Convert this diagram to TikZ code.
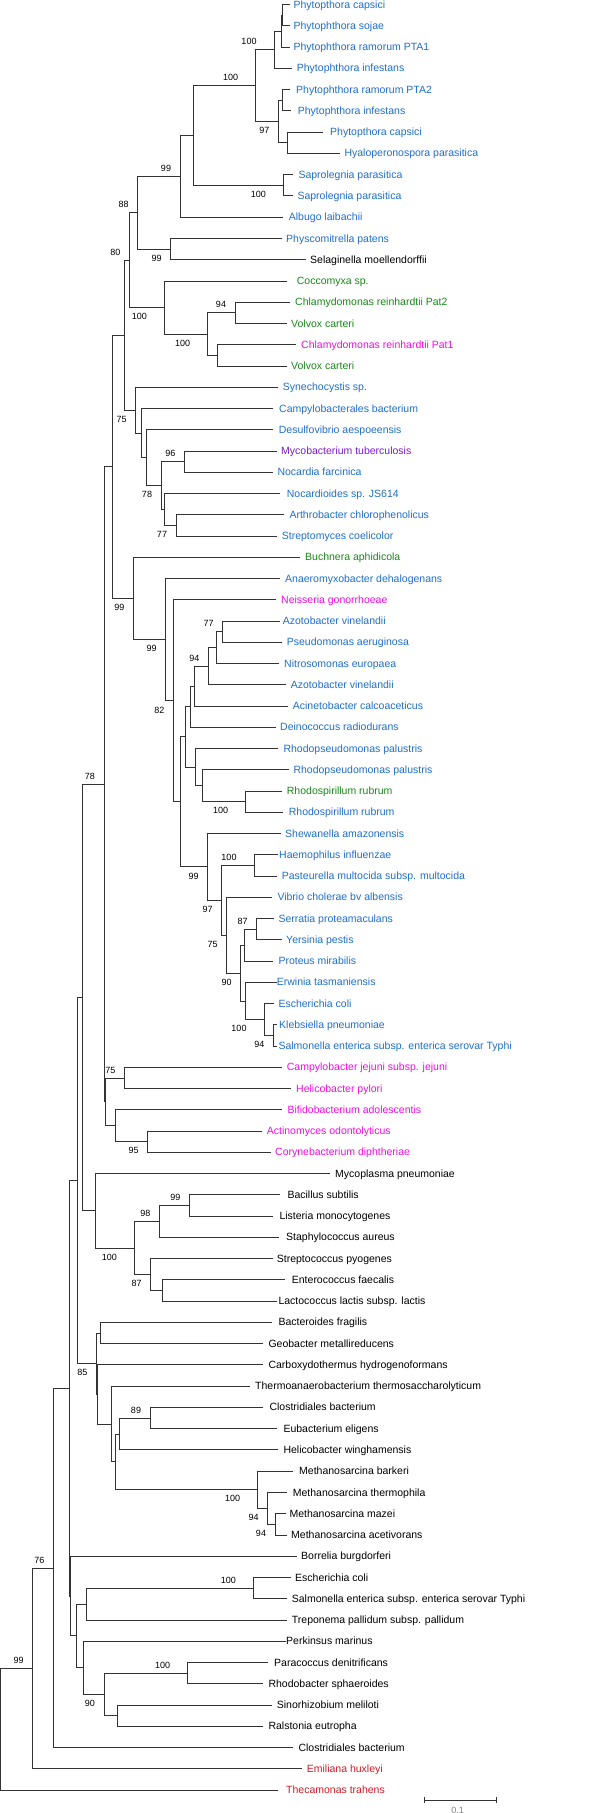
\documentclass[tikz,border=0pt]{standalone}
\usepackage{fontspec}
\setmainfont{Liberation Sans}
\definecolor{oblue}{RGB}{30,110,200}
\definecolor{ogreen}{RGB}{25,135,25}
\definecolor{omag}{RGB}{240,10,230}
\definecolor{opurp}{RGB}{125,25,205}
\definecolor{ored}{RGB}{210,25,35}
\begin{document}
\begin{tikzpicture}[x=1pt, y=-21.254pt,
  branch/.style={line width=1pt, black!80},
  leaf/.style={anchor=base west, inner sep=0pt, yshift=-3.5pt, font=\fontsize{10.5}{12}\selectfont},
  boot/.style={inner sep=0pt, font=\fontsize{9}{10}\selectfont},
  b2u/.style={boot, xshift=-14pt, yshift=8pt},
  b2d/.style={boot, xshift=-14pt, yshift=-9pt},
  b3u/.style={boot, xshift=-25pt, yshift=8pt},
  b3d/.style={boot, xshift=-25pt, yshift=-9pt}]
\useasboundingbox (0,0.7787) rectangle (600,86.08);

% Tips and taxa
\coordinate (t1) at (290,1); \node[leaf,oblue] (n1) at (293.3,1) {Phytopthora capsici};
\coordinate (t2) at (290,2); \node[leaf,oblue] (n2) at (293.3,2) {Phytophthora sojae};
\coordinate (t3) at (290,3); \node[leaf,oblue] (n3) at (293.3,3) {Phytophthora ramorum PTA1};
\coordinate (t4) at (291.7,4); \node[leaf,oblue] (n4) at (296.7,4) {Phytophthora infestans};
\coordinate (t5) at (290,5); \node[leaf,oblue] (n5) at (296,5) {Phytophthora ramorum PTA2};
\coordinate (t6) at (291,6); \node[leaf,oblue] (n6) at (297.7,6) {Phytophthora infestans};
\coordinate (t7) at (323.3,7); \node[leaf,oblue] (n7) at (330,7) {Phytopthora capsici};
\coordinate (t8) at (340,8); \node[leaf,oblue] (n8) at (344.3,8) {Hyaloperonospora parasitica};
\coordinate (t9) at (293.3,9); \node[leaf,oblue] (n9) at (298.3,9) {Saprolegnia parasitica};
\coordinate (t10) at (292.7,10); \node[leaf,oblue] (n10) at (297.3,10) {Saprolegnia parasitica};
\coordinate (t11) at (283.3,11); \node[leaf,oblue] (n11) at (288.7,11) {Albugo laibachii};
\coordinate (t12) at (281.7,12); \node[leaf,oblue] (n12) at (286,12) {Physcomitrella patens};
\coordinate (t13) at (306,13); \node[leaf,black] (n13) at (310,13) {Selaginella moellendorffii};
\coordinate (t14) at (287.3,14); \node[leaf,ogreen] (n14) at (296.7,14) {Coccomyxa sp.};
\coordinate (t15) at (290,15); \node[leaf,ogreen] (n15) at (295,15) {Chlamydomonas reinhardtii Pat2};
\coordinate (t16) at (287.3,16); \node[leaf,ogreen] (n16) at (291,16) {Volvox carteri};
\coordinate (t17) at (295.7,17); \node[leaf,omag] (n17) at (301,17) {Chlamydomonas reinhardtii Pat1};
\coordinate (t18) at (287.3,18); \node[leaf,ogreen] (n18) at (291,18) {Volvox carteri};
\coordinate (t19) at (278.3,19); \node[leaf,oblue] (n19) at (282.7,19) {Synechocystis sp.};
\coordinate (t20) at (273.3,20); \node[leaf,oblue] (n20) at (279,20) {Campylobacterales bacterium};
\coordinate (t21) at (272.7,21); \node[leaf,oblue] (n21) at (278.7,21) {Desulfovibrio aespoeensis};
\coordinate (t22) at (276.7,22); \node[leaf,opurp] (n22) at (281,22) {Mycobacterium tuberculosis};
\coordinate (t23) at (272.7,23); \node[leaf,oblue] (n23) at (277.3,23) {Nocardia farcinica};
\coordinate (t24) at (280,24); \node[leaf,oblue] (n24) at (286.7,24) {Nocardioides sp. JS614};
\coordinate (t25) at (284.3,25); \node[leaf,oblue] (n25) at (289.3,25) {Arthrobacter chlorophenolicus};
\coordinate (t26) at (277.3,26); \node[leaf,oblue] (n26) at (281.7,26) {Streptomyces coelicolor};
\coordinate (t27) at (300,27); \node[leaf,ogreen] (n27) at (305,27) {Buchnera aphidicola};
\coordinate (t28) at (280,28); \node[leaf,oblue] (n28) at (285,28) {Anaeromyxobacter dehalogenans};
\coordinate (t29) at (276,29); \node[leaf,omag] (n29) at (281,29) {Neisseria gonorrhoeae};
\coordinate (t30) at (280,30); \node[leaf,oblue] (n30) at (282.7,30) {Azotobacter vinelandii};
\coordinate (t31) at (281.7,31); \node[leaf,oblue] (n31) at (286.7,31) {Pseudomonas aeruginosa};
\coordinate (t32) at (279.3,32); \node[leaf,oblue] (n32) at (284,32) {Nitrosomonas europaea};
\coordinate (t33) at (286,33); \node[leaf,oblue] (n33) at (290.7,33) {Azotobacter vinelandii};
\coordinate (t34) at (288.3,34); \node[leaf,oblue] (n34) at (292.7,34) {Acinetobacter calcoaceticus};
\coordinate (t35) at (276,35); \node[leaf,oblue] (n35) at (280,35) {Deinococcus radiodurans};
\coordinate (t36) at (278.3,36); \node[leaf,oblue] (n36) at (283.3,36) {Rhodopseudomonas palustris};
\coordinate (t37) at (289.3,37); \node[leaf,oblue] (n37) at (293.3,37) {Rhodopseudomonas palustris};
\coordinate (t38) at (281.7,38); \node[leaf,ogreen] (n38) at (286.7,38) {Rhodospirillum rubrum};
\coordinate (t39) at (283.3,39); \node[leaf,oblue] (n39) at (288.7,39) {Rhodospirillum rubrum};
\coordinate (t40) at (281,40); \node[leaf,oblue] (n40) at (285,40) {Shewanella amazonensis};
\coordinate (t41) at (278.3,41); \node[leaf,oblue] (n41) at (279,41) {Haemophilus influenzae};
\coordinate (t42) at (276.7,42); \node[leaf,oblue] (n42) at (281.7,42) {Pasteurella multocida subsp. multocida};
\coordinate (t43) at (271.7,43); \node[leaf,oblue] (n43) at (277.3,43) {Vibrio cholerae bv albensis};
\coordinate (t44) at (274,44); \node[leaf,oblue] (n44) at (278.3,44) {Serratia proteamaculans};
\coordinate (t45) at (281.7,45); \node[leaf,oblue] (n45) at (286,45) {Yersinia pestis};
\coordinate (t46) at (273.3,46); \node[leaf,oblue] (n46) at (278.3,46) {Proteus mirabilis};
\coordinate (t47) at (276.7,47); \node[leaf,oblue] (n47) at (276.7,47) {Erwinia tasmaniensis};
\coordinate (t48) at (274,48); \node[leaf,oblue] (n48) at (278.3,48) {Escherichia coli};
\coordinate (t49) at (276.7,49); \node[leaf,oblue] (n49) at (279,49) {Klebsiella pneumoniae};
\coordinate (t50) at (276.7,50); \node[leaf,oblue] (n50) at (278.3,50) {Salmonella enterica subsp. enterica serovar Typhi};
\coordinate (t51) at (281.7,51); \node[leaf,omag] (n51) at (286.7,51) {Campylobacter jejuni subsp. jejuni};
\coordinate (t52) at (291,52); \node[leaf,omag] (n52) at (296,52) {Helicobacter pylori};
\coordinate (t53) at (281.7,53); \node[leaf,omag] (n53) at (287.3,53) {Bifidobacterium adolescentis};
\coordinate (t54) at (261.7,54); \node[leaf,omag] (n54) at (266.7,54) {Actinomyces odontolyticus};
\coordinate (t55) at (270.7,55); \node[leaf,omag] (n55) at (275,55) {Corynebacterium diphtheriae};
\coordinate (t56) at (330,56); \node[leaf] (n56) at (335,56) {Mycoplasma pneumoniae};
\coordinate (t57) at (280,57); \node[leaf] (n57) at (287.3,57) {Bacillus subtilis};
\coordinate (t58) at (272.7,58); \node[leaf] (n58) at (279.3,58) {Listeria monocytogenes};
\coordinate (t59) at (279.3,59); \node[leaf] (n59) at (286,59) {Staphylococcus aureus};
\coordinate (t60) at (272.7,60); \node[leaf] (n60) at (276.7,60) {Streptococcus pyogenes};
\coordinate (t61) at (285,61); \node[leaf] (n61) at (291.7,61) {Enterococcus faecalis};
\coordinate (t62) at (276.7,62); \node[leaf] (n62) at (278.3,62) {Lactococcus lactis subsp. lactis};
\coordinate (t63) at (271.7,63); \node[leaf] (n63) at (278.3,63) {Bacteroides fragilis};
\coordinate (t64) at (263.3,64); \node[leaf] (n64) at (268.3,64) {Geobacter metallireducens};
\coordinate (t65) at (263.3,65); \node[leaf] (n65) at (268.3,65) {Carboxydothermus hydrogenoformans};
\coordinate (t66) at (250,66); \node[leaf] (n66) at (255,66) {Thermoanaerobacterium thermosaccharolyticum};
\coordinate (t67) at (263.3,67); \node[leaf] (n67) at (269.3,67) {Clostridiales bacterium};
\coordinate (t68) at (276.7,68); \node[leaf] (n68) at (283.3,68) {Eubacterium eligens};
\coordinate (t69) at (278.3,69); \node[leaf] (n69) at (283.3,69) {Helicobacter winghamensis};
\coordinate (t70) at (293.3,70); \node[leaf] (n70) at (299,70) {Methanosarcina barkeri};
\coordinate (t71) at (287.3,71); \node[leaf] (n71) at (292.7,71) {Methanosarcina thermophila};
\coordinate (t72) at (285.7,72); \node[leaf] (n72) at (289.3,72) {Methanosarcina mazei};
\coordinate (t73) at (286.7,73); \node[leaf] (n73) at (291,73) {Methanosarcina acetivorans};
\coordinate (t74) at (296.7,74); \node[leaf] (n74) at (301,74) {Borrelia burgdorferi};
\coordinate (t75) at (290.7,75); \node[leaf] (n75) at (295,75) {Escherichia coli};
\coordinate (t76) at (287.3,76); \node[leaf] (n76) at (291.7,76) {Salmonella enterica subsp. enterica serovar Typhi};
\coordinate (t77) at (287.3,77); \node[leaf] (n77) at (291.7,77) {Treponema pallidum subsp. pallidum};
\coordinate (t78) at (286,78); \node[leaf] (n78) at (286,78) {Perkinsus marinus};
\coordinate (t79) at (268.3,79); \node[leaf] (n79) at (274,79) {Paracoccus denitrificans};
\coordinate (t80) at (263.3,80); \node[leaf] (n80) at (268.3,80) {Rhodobacter sphaeroides};
\coordinate (t81) at (272.3,81); \node[leaf] (n81) at (276.7,81) {Sinorhizobium meliloti};
\coordinate (t82) at (263.3,82); \node[leaf] (n82) at (268.3,82) {Ralstonia eutropha};
\coordinate (t83) at (293.3,83); \node[leaf] (n83) at (298.3,83) {Clostridiales bacterium};
\coordinate (t84) at (301.7,84); \node[leaf,ored] (n84) at (306.7,84) {Emiliana huxleyi};
\coordinate (t85) at (277.7,85); \node[leaf,ored] (n85) at (286,85) {Thecamonas trahens};

% Oomycetes and plants
\coordinate (A) at (282.7,1.5);
\coordinate (B) at (281.7,2.25);
\coordinate (C) at (274,3.125);
\coordinate (D) at (282.7,5.5);
\coordinate (E) at (287.3,7.5);
\coordinate (F) at (278.3,6.5);
\coordinate (G) at (255.7,4.8125);
\coordinate (H) at (283.3,9.5);
\coordinate (I) at (193.3,7.156);
\coordinate (J) at (180,9.078);
\coordinate (K) at (170.7,12.5);
\coordinate (L) at (137.7,10.789);
\draw[branch] (A) |- (t1) (A) |- (t2) (B) |- (A) (B) |- (t3) (C) |- (B) (C) |- (t4);
\draw[branch] (D) |- (t5) (D) |- (t6) (E) |- (t7) (E) |- (t8) (F) |- (D) (F) |- (E);
\draw[branch] (G) |- (C) (G) |- (F) (H) |- (t9) (H) |- (t10) (I) |- (G) (I) |- (H);
\draw[branch] (J) |- (I) (J) |- (t11) (K) |- (t12) (K) |- (t13) (L) |- (J) (L) |- (K);

% Green algae
\coordinate (O) at (235,15.5);
\coordinate (P) at (217.7,17.5);
\coordinate (Q) at (207.7,16.5);
\coordinate (R) at (164.3,15.25);
\coordinate (M) at (129.3,13.02);
\draw[branch] (O) |- (t15) (O) |- (t16) (P) |- (t17) (P) |- (t18) (Q) |- (O) (Q) |- (P);
\draw[branch] (R) |- (t14) (R) |- (Q) (M) |- (L) (M) |- (R);

% Actinobacteria
\coordinate (X) at (184.3,22.5);
\coordinate (Y) at (176,25.5);
\coordinate (Z) at (164,24.75);
\coordinate (W) at (161,23.625);
\coordinate (V) at (146.7,22.3125);
\coordinate (U) at (141.7,21.156);
\coordinate (T) at (135.7,20.078);
\coordinate (S) at (124.3,16.549);
\draw[branch] (X) |- (t22) (X) |- (t23) (Y) |- (t25) (Y) |- (t26) (Z) |- (t24) (Z) |- (Y);
\draw[branch] (W) |- (X) (W) |- (Z) (V) |- (t21) (V) |- (W) (U) |- (t20) (U) |- (V);
\draw[branch] (T) |- (t19) (T) |- (U) (S) |- (M) (S) |- (T);

% Proteobacteria
\coordinate (FF) at (222.7,30.5);
\coordinate (GG) at (216,31.25);
\coordinate (HH) at (208.3,32.125);
\coordinate (II) at (194.3,33.0625);
\coordinate (JJ) at (190.7,34.031);
\coordinate (KK) at (245.7,38.5);
\coordinate (LL) at (202.3,37.75);
\coordinate (MM) at (195.7,36.875);
\coordinate (NN) at (185,35.453);
\draw[branch] (FF) |- (t30) (FF) |- (t31) (GG) |- (FF) (GG) |- (t32) (HH) |- (GG) (HH) |- (t33);
\draw[branch] (II) |- (HH) (II) |- (t34) (JJ) |- (II) (JJ) |- (t35);
\draw[branch] (KK) |- (t38) (KK) |- (t39) (LL) |- (t37) (LL) |- (KK) (MM) |- (t36) (MM) |- (LL);
\draw[branch] (NN) |- (JJ) (NN) |- (MM);
\coordinate (QQ) at (254,41.5);
\coordinate (VV) at (256.7,44.5);
\coordinate (TT) at (244.3,45.25);
\coordinate (WW) at (273.3,49.5);
\coordinate (XX) at (264,48.75);
\coordinate (UU) at (245.7,47.875);
\coordinate (SS) at (240.7,46.5625);
\coordinate (RR) at (226.7,44.781);
\coordinate (PP) at (221.7,43.141);
\coordinate (OO) at (207.7,41.570);
\coordinate (EE) at (180,38.512);
\coordinate (DD) at (173.3,33.756);
\coordinate (CC) at (165.7,30.878);
\coordinate (BB) at (133.3,28.939);
\coordinate (AA) at (112.3,22.744);
\draw[branch] (QQ) |- (t41) (QQ) |- (t42) (VV) |- (t44) (VV) |- (t45) (TT) |- (VV) (TT) |- (t46);
\draw[branch] (WW) |- (t49) (WW) |- (t50) (XX) |- (t48) (XX) |- (WW) (UU) |- (t47) (UU) |- (XX);
\draw[branch] (SS) |- (TT) (SS) |- (UU) (RR) |- (t43) (RR) |- (SS) (PP) |- (QQ) (PP) |- (RR);
\draw[branch] (OO) |- (t40) (OO) |- (PP) (EE) |- (NN) (EE) |- (OO) (DD) |- (t29) (DD) |- (EE);
\draw[branch] (CC) |- (t28) (CC) |- (DD) (BB) |- (t27) (BB) |- (CC) (AA) |- (S) (AA) |- (BB);

% Epsilon and actinomycetes
\coordinate (AD) at (124.3,51.5);
\coordinate (AC) at (147.7,54.5);
\coordinate (AB) at (115,53.75);
\coordinate (ZZ) at (105.7,52.625);
\coordinate (YY) at (104,37.685);
\draw[branch] (AD) |- (t51) (AD) |- (t52) (AC) |- (t54) (AC) |- (t55) (AB) |- (t53) (AB) |- (AC);
\draw[branch] (ZZ) |- (AD) (ZZ) |- (AB) (YY) |- (AA) (YY) |- (ZZ);

% Firmicutes
\coordinate (BF) at (189.3,57.5);
\coordinate (BG) at (159.3,58.25);
\coordinate (BH) at (162.3,61.5);
\coordinate (BI) at (150.7,60.75);
\coordinate (AG) at (134.3,59.5);
\coordinate (AF) at (95,57.75);
\coordinate (AE) at (82.7,47.717);
\draw[branch] (BF) |- (t57) (BF) |- (t58) (BG) |- (BF) (BG) |- (t59) (BH) |- (t61) (BH) |- (t62);
\draw[branch] (BI) |- (t60) (BI) |- (BH) (AG) |- (BG) (AG) |- (BI) (AF) |- (t56) (AF) |- (AG);
\draw[branch] (AE) |- (YY) (AE) |- (AF);

% Anaerobes and archaea
\coordinate (AV) at (100,63.5);
\coordinate (B2) at (150,67.5);
\coordinate (AZ) at (119.3,68.25);
\coordinate (BC) at (275,72.5);
\coordinate (BD) at (267.7,71.75);
\coordinate (BA) at (257.7,70.875);
\coordinate (AY) at (115,69.5625);
\coordinate (AW) at (111.7,67.781);
\coordinate (BE) at (97,66.391);
\coordinate (AX) at (96.3,64.945);
\coordinate (AH) at (77.7,56.331);
\draw[branch] (AV) |- (t63) (AV) |- (t64) (B2) |- (t67) (B2) |- (t68) (AZ) |- (B2) (AZ) |- (t69);
\draw[branch] (BC) |- (t72) (BC) |- (t73) (BD) |- (t71) (BD) |- (BC) (BA) |- (t70) (BA) |- (BD);
\draw[branch] (AY) |- (AZ) (AY) |- (BA) (AW) |- (t66) (AW) |- (AY) (BE) |- (t65) (BE) |- (AW);
\draw[branch] (AX) |- (AV) (AX) |- (BE) (AH) |- (AE) (AH) |- (AX);

% Lower clades and root
\coordinate (AO) at (253.3,75.5);
\coordinate (AM) at (86.7,76.25);
\coordinate (AQ) at (187.7,79.5);
\coordinate (AR) at (117.3,81.5);
\coordinate (AP) at (104,80.5);
\coordinate (AN) at (83.3,79.25);
\coordinate (AL) at (76.7,77.75);
\coordinate (AK) at (70.7,75.875);
\coordinate (AJ) at (69,66.103);
\coordinate (AS) at (53.3,74.552);
\coordinate (AT) at (32.7,79.276);
\coordinate (root) at (0.8,82.138);
\draw[branch] (AO) |- (t75) (AO) |- (t76) (AM) |- (AO) (AM) |- (t77) (AQ) |- (t79) (AQ) |- (t80);
\draw[branch] (AR) |- (t81) (AR) |- (t82) (AP) |- (AQ) (AP) |- (AR) (AN) |- (t78) (AN) |- (AP);
\draw[branch] (AL) |- (AM) (AL) |- (AN) (AK) |- (t74) (AK) |- (AL) (AJ) |- (AH) (AJ) |- (AK);
\draw[branch] (AS) |- (AJ) (AS) |- (t83) (AT) |- (AS) (AT) |- (t84) (root) |- (AT) (root) |- (t85);

% Bootstrap values
\node[b3u] (bC) at (C) {100};
\node[b2d] (bF) at (F) {97};
\node[b3u] (bG) at (G) {100};
\node[b3d] (bH) at (H) {100};
\node[b2u] (bJ) at (J) {99};
\node[b2d] (bK) at (K) {99};
\node[b2u] (bL) at (L) {88};
\node[b2u] (bM) at (M) {80};
\node[b2u] (bO) at (O) {94};
\node[b3d] (bQ) at (Q) {100};
\node[b3d] (bR) at (R) {100};
\node[b2u] (bX) at (X) {96};
\node[b2d] (bY) at (Y) {77};
\node[b2d] (bW) at (W) {78};
\node[b2d] (bT) at (T) {75};
\node[b2u] (bFF) at (FF) {77};
\node[b2u] (bHH) at (HH) {94};
\node[b3d] (bKK) at (KK) {100};
\node[b3u] (bQQ) at (QQ) {100};
\node[b2u] (bVV) at (VV) {87};
\node[b2d] (bWW) at (WW) {94};
\node[b3d] (bXX) at (XX) {100};
\node[b2d] (bSS) at (SS) {90};
\node[b2d] (bRR) at (RR) {75};
\node[b2d] (bPP) at (PP) {97};
\node[b2d] (bOO) at (OO) {99};
\node[b2d] (bDD) at (DD) {82};
\node[b2d] (bCC) at (CC) {99};
\node[b2d] (bBB) at (BB) {99};
\node[b2u] (bYY) at (YY) {78};
\node[b2u] (bAD) at (AD) {75};
\node[b2d] (bAC) at (AC) {95};
\node[b2u] (bBF) at (BF) {99};
\node[b2u] (bBG) at (BG) {98};
\node[b2d] (bBI) at (BI) {87};
\node[b3d] (bAG) at (AG) {100};
\node[b2d] (bAX) at (AX) {85};
\node[b2u] (bB2) at (B2) {89};
\node[b3d] (bBA) at (BA) {100};
\node[b2d] (bBD) at (BD) {94};
\node[b2d] (bBC) at (BC) {94};
\node[b2u] (bAS) at (AS) {76};
\node[b3u] (bAO) at (AO) {100};
\node[b2u] (bAT) at (AT) {99};
\node[b3u] (bAQ) at (AQ) {100};
\node[b2d] (bAP) at (AP) {90};

% Scale bar
\coordinate (s1) at (424.3,85.47);
\coordinate (s2) at (496,85.47);
\draw[branch] (s1) -- (s2);
\draw[branch] ([yshift=3.3pt]s1) -- ([yshift=-3.3pt]s1);
\draw[branch] ([yshift=3.3pt]s2) -- ([yshift=-3.3pt]s2);
\node[boot, anchor=base, black!50] (sl) at (457.7,86.08) {0.1};
\end{tikzpicture}
\end{document}
